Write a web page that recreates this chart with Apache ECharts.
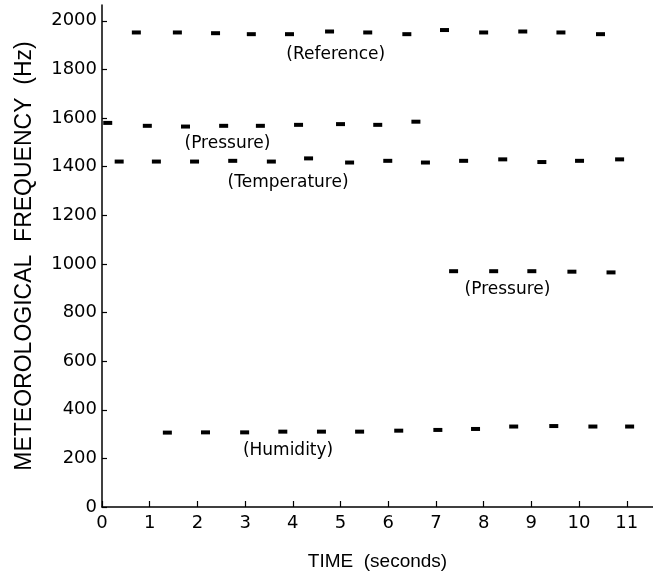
<!DOCTYPE html>
<html>
<head>
<meta charset="utf-8">
<script src="https://cdn.jsdelivr.net/npm/echarts@6/dist/echarts.min.js"></script>
<style>
  html, body { margin: 0; padding: 0; background: #fff; }
  #chart { width: 653px; height: 573px; }
</style>
</head>
<body>
<div id="chart"></div>
<script>
  // tick labels
  const xTicks = [0, 1, 2, 3, 4, 5, 6, 7, 8, 9, 10, 11];
  const yTicks = [0, 200, 400, 600, 800, 1000, 1200, 1400, 1600, 1800, 2000];

  // reference channel
  const refTime = [0.72, 1.58, 2.38, 3.13, 3.93, 4.77, 5.57, 6.39, 7.18, 8.0, 8.82, 9.62, 10.45];
  const refFreq = [1952, 1952, 1949, 1945, 1945, 1956, 1952, 1945, 1962, 1952, 1956, 1952, 1945];

  // pressure, upper band
  const pressHiTime = [0.12, 0.95, 1.75, 2.55, 3.32, 4.12, 5.0, 5.78, 6.58];
  const pressHiFreq = [1580, 1568, 1565, 1568, 1568, 1572, 1575, 1572, 1585];

  // temperature
  const tempTime = [0.36, 1.14, 1.94, 2.74, 3.55, 4.33, 5.19, 5.99, 6.78, 7.58, 8.40, 9.22, 10.01, 10.85];
  const tempFreq = [1421, 1421, 1421, 1424, 1421, 1434, 1417, 1424, 1417, 1424, 1430, 1419, 1424, 1430];

  // pressure, lower band
  const pressLoTime = [7.37, 8.21, 9.01, 9.85, 10.67];
  const pressLoFreq = [970, 970, 970, 968, 965];

  // humidity
  const humTime = [1.37, 2.17, 2.99, 3.79, 4.60, 5.40, 6.22, 7.04, 7.83, 8.63, 9.47, 10.29, 11.06];
  const humFreq = [306, 307, 307, 310, 310, 310, 314, 317, 321, 331, 333, 331, 331];

  // channel names written on the plot
  const labelText = ['(Reference)', '(Pressure)', '(Temperature)', '(Pressure)', '(Humidity)'];
  const labelTime = [4.90, 2.63, 3.90, 8.50, 3.90];
  const labelFreq = [1863, 1495, 1336, 894, 234];

  const chart = echarts.init(document.getElementById('chart'));

  function pairs(xs, ys) {
    return xs.map((x, i) => [x, ys[i]]);
  }

  function marks(name, xs, ys) {
    return {
      name: name,
      type: 'scatter',
      symbol: 'rect',
      symbolSize: [9, 4],
      itemStyle: { color: '#000', opacity: 1 },
      silent: true,
      data: pairs(xs, ys)
    };
  }

  const ink = '#000';

  chart.setOption({
    animation: false,
    backgroundColor: '#fff',
    grid: { left: 102, right: 0, top: 5, bottom: 66, containLabel: false, outerBoundsMode: 'none' },
    xAxis: {
      type: 'value',
      min: 0,
      max: 11.55,
      name: 'TIME  (seconds)',
      nameLocation: 'middle',
      nameGap: 45,
      nameTextStyle: { fontFamily: 'Liberation Sans', fontSize: 19, color: ink },
      axisLine: { lineStyle: { color: ink, width: 1.5 } },
      axisTick: { inside: true, length: 6, customValues: xTicks, lineStyle: { color: ink, width: 1.2 } },
      axisLabel: {
        customValues: xTicks,
        margin: 7,
        fontFamily: 'DejaVu Sans',
        fontSize: 18,
        color: ink,
        formatter: v => String(v)
      },
      splitLine: { show: false }
    },
    yAxis: {
      type: 'value',
      min: 0,
      max: 2065,
      name: 'METEOROLOGICAL  FREQUENCY  (Hz)',
      nameLocation: 'middle',
      nameGap: 66,
      nameTextStyle: { fontFamily: 'Liberation Sans', fontSize: 23, color: ink },
      axisLine: { show: true, lineStyle: { color: ink, width: 1.5 } },
      axisTick: { show: true, inside: true, length: 5, customValues: yTicks, lineStyle: { color: ink, width: 1.2 } },
      axisLabel: {
        customValues: yTicks,
        margin: 5,
        fontFamily: 'DejaVu Sans',
        fontSize: 18,
        color: ink,
        formatter: v => String(v)
      },
      splitLine: { show: false }
    },
    series: [
      marks('Reference', refTime, refFreq),
      marks('Pressure high', pressHiTime, pressHiFreq),
      marks('Temperature', tempTime, tempFreq),
      marks('Pressure low', pressLoTime, pressLoFreq),
      marks('Humidity', humTime, humFreq),
      {
        name: 'labels',
        type: 'scatter',
        symbolSize: 0,
        silent: true,
        itemStyle: { opacity: 1 },
        label: {
          show: true,
          position: 'inside',
          formatter: p => p.data[2],
          fontFamily: 'DejaVu Sans',
          fontSize: 17,
          color: ink
        },
        data: labelText.map((t, i) => [labelTime[i], labelFreq[i], t])
      }
    ]
  });
</script>
</body>
</html>
